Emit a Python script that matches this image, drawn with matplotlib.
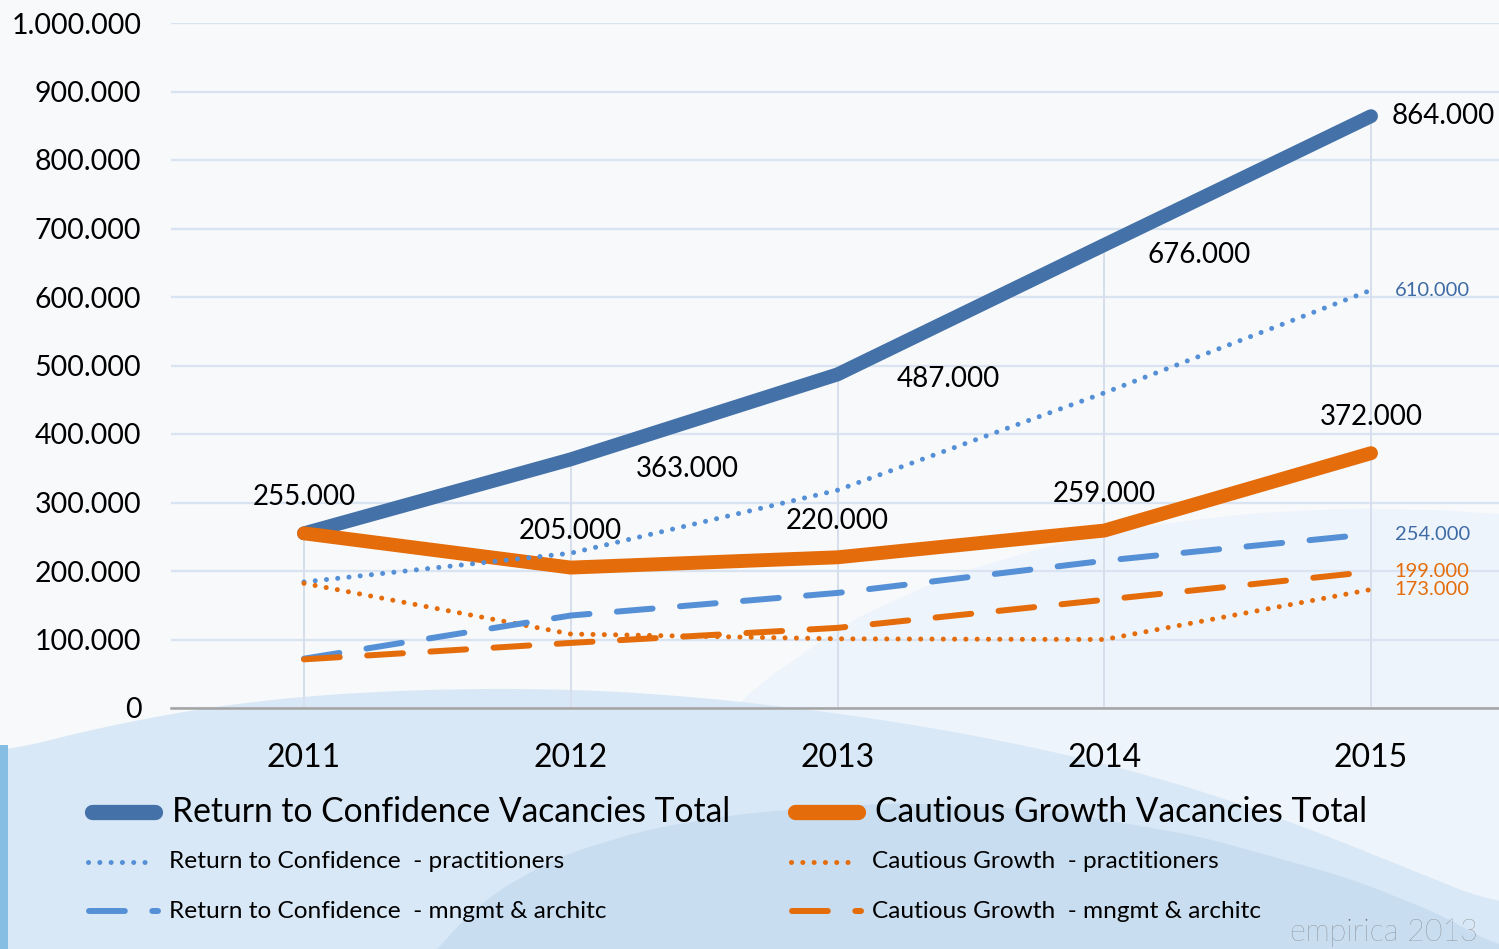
import numpy as np
import matplotlib
matplotlib.use("Agg")
import matplotlib.pyplot as plt
from matplotlib.lines import Line2D

plt.rcParams['font.family'] = ['Lato', 'DejaVu Sans']

# --- data ---
years = ['2011', '2012', '2013', '2014', '2015']
rtc_total = [255000, 363000, 487000, 676000, 864000]
cg_total = [255000, 205000, 220000, 259000, 372000]
rtc_pract = [184000, 226000, 318000, 460000, 610000]
cg_pract = [182000, 108000, 101000, 100000, 173000]
rtc_mngmt = [72000, 135000, 168000, 215000, 254000]
cg_mngmt = [71000, 95000, 117000, 158000, 199000]
y_ticks = [0, 100000, 200000, 300000, 400000, 500000, 600000, 700000, 800000, 900000, 1000000]

BLUE_DARK = '#4371A8'
BLUE_LIGHT = '#5590D6'
ORANGE = '#E46C0A'

W, H = 1499, 949


def fx(px):
    return px / W


def fy(py):
    return 1 - py / H


def fmt(v):
    return f"{v:,.0f}".replace(',', '.')


fig = plt.figure(figsize=(W / 100, H / 100), dpi=100)
fig.patch.set_facecolor('#F7F9FB')

# --- background waves (pixel coords) ---
bg = fig.add_axes([0, 0, 1, 1], zorder=0)
bg.set_xlim(0, W)
bg.set_ylim(H, 0)
bg.axis('off')


def wave(pts, color):
    pts = np.array(pts, dtype=float)
    xs = np.linspace(pts[0, 0], pts[-1, 0], 400)
    ys = np.interp(xs, pts[:, 0], pts[:, 1])
    # light smoothing of the polyline
    k = np.ones(25) / 25
    ys = np.convolve(np.pad(ys, 12, mode='edge'), k, mode='valid')
    bg.fill_between(xs, ys, H, color=color, lw=0)


wave([(650, 800), (750, 690), (850, 620), (950, 575), (1050, 545), (1150, 525),
      (1250, 513), (1350, 508), (1450, 510), (1499, 514)], '#EEF4FB')
wave([(0, 752), (100, 727), (200, 708), (300, 696), (400, 690), (500, 688), (600, 690),
      (700, 697), (800, 708), (900, 722), (1000, 740), (1100, 762), (1200, 790),
      (1300, 825), (1400, 865), (1499, 905)], '#D9E8F6')
wave([(400, 990), (480, 900), (560, 855), (650, 828), (750, 812), (900, 802), (1050, 810),
      (1200, 836), (1350, 878), (1450, 918), (1499, 949)], '#C9DDF0')
bg.fill_between([0, 8], 745, H, color='#86BDE3', lw=0)

# --- main axes ---
ax = fig.add_axes([fx(170.6), fy(708), (1504.4 - 170.6) / W, (708 - 23) / H], zorder=1)
ax.set_facecolor('none')
x = np.arange(len(years))
ax.set_xlim(-0.5, len(years) - 0.5)
ax.set_ylim(0, 1000000)

ax.set_yticks(y_ticks)
ax.set_yticklabels([fmt(v) for v in y_ticks], fontsize=20.5)
ax.set_xticks(x)
ax.set_xticklabels(years, fontsize=23)
ax.tick_params(axis='both', length=0)
ax.tick_params(axis='y', pad=21)
ax.tick_params(axis='x', pad=25)
ax.grid(axis='y', color='#D9E3F1', lw=1.6)
ax.set_axisbelow(True)
for s in ['top', 'right', 'left']:
    ax.spines[s].set_visible(False)
ax.spines['bottom'].set_color('#A3A3A3')
ax.spines['bottom'].set_linewidth(1.8)

# drop lines from the highest series value
tops = np.max([rtc_total, cg_total, rtc_pract, cg_pract, rtc_mngmt, cg_mngmt], axis=0)
ax.vlines(x, 0, tops, color='#D6DFEB', lw=1.4, zorder=1.5)

total_kw = dict(lw=10, solid_capstyle='round', solid_joinstyle='round')
dot_kw = dict(lw=3.6, ls=(0, (0.01, 2.25)), dash_capstyle='round')
dash_kw = dict(lw=4.3, ls=(0, (6, 4.6)), dash_capstyle='round')

ax.plot(x, rtc_total, color=BLUE_DARK, zorder=3, **total_kw)
ax.plot(x, cg_total, color=ORANGE, zorder=3.1, **total_kw)
ax.plot(x, rtc_pract, color=BLUE_LIGHT, zorder=4, **dot_kw)
ax.plot(x, cg_pract, color=ORANGE, zorder=4, **dot_kw)
ax.plot(x, rtc_mngmt, color=BLUE_LIGHT, zorder=4, **dash_kw)
ax.plot(x, cg_mngmt, color=ORANGE, zorder=4, **dash_kw)

# --- data labels ---
# Cautious Growth totals: above the point
for i, v in enumerate(cg_total):
    ax.annotate(fmt(v), (x[i], v), xytext=(0, 26), textcoords='offset points',
                ha='center', va='center', fontsize=20, zorder=6)
# Return to Confidence totals (2011 shares the label above)
rtc_off = [None, (84, -7), (80, -3), (68, -7), (52, 0)]
for i, v in enumerate(rtc_total):
    if rtc_off[i] is None:
        continue
    ax.annotate(fmt(v), (x[i], v), xytext=rtc_off[i], textcoords='offset points',
                ha='center', va='center', fontsize=20, zorder=6)
# end labels of the sub-series
for vals, col in [(rtc_pract, '#3F6BA5'), (rtc_mngmt, '#3F6BA5'),
                  (cg_mngmt, ORANGE), (cg_pract, ORANGE)]:
    ax.annotate(fmt(vals[-1]), (x[-1], vals[-1]), xytext=(17, 0), textcoords='offset points',
                ha='left', va='center', fontsize=14.5, color=col, zorder=6)

# --- legend (drawn by hand so rows can use different sizes) ---
def handle(x0, x1, y, color, **kw):
    fig.add_artist(Line2D([fx(x0), fx(x1)], [fy(y), fy(y)], color=color,
                          transform=fig.transFigure, zorder=5, **kw))


handle(92, 155, 812, BLUE_DARK, lw=11, solid_capstyle='round')
handle(795, 858, 812, ORANGE, lw=11, solid_capstyle='round')
handle(88, 152, 862, BLUE_LIGHT, **dot_kw)
handle(791, 855, 862, ORANGE, **dot_kw)
handle(89, 158, 911, BLUE_LIGHT, **dash_kw)
handle(792, 861, 911, ORANGE, **dash_kw)

big, small = 24.2, 17.6
fig.text(fx(172), fy(812), 'Return to Confidence Vacancies Total', fontsize=big,
         va='center', ha='left', zorder=5)
fig.text(fx(875), fy(812), 'Cautious Growth Vacancies Total', fontsize=big,
         va='center', ha='left', zorder=5)
fig.text(fx(169), fy(862), 'Return to Confidence  - practitioners', fontsize=small,
         va='center', ha='left', zorder=5)
fig.text(fx(872), fy(862), 'Cautious Growth  - practitioners', fontsize=small,
         va='center', ha='left', zorder=5)
fig.text(fx(169), fy(911), 'Return to Confidence  - mngmt & architc', fontsize=small,
         va='center', ha='left', zorder=5)
fig.text(fx(872), fy(911), 'Cautious Growth  - mngmt & architc', fontsize=small,
         va='center', ha='left', zorder=5)

fig.text(fx(1478), fy(947), 'empirica 2013', fontsize=22, fontweight='light',
         color='#707070', va='bottom', ha='right', zorder=5)

fig.savefig('out.png', dpi=100, facecolor=fig.get_facecolor())
